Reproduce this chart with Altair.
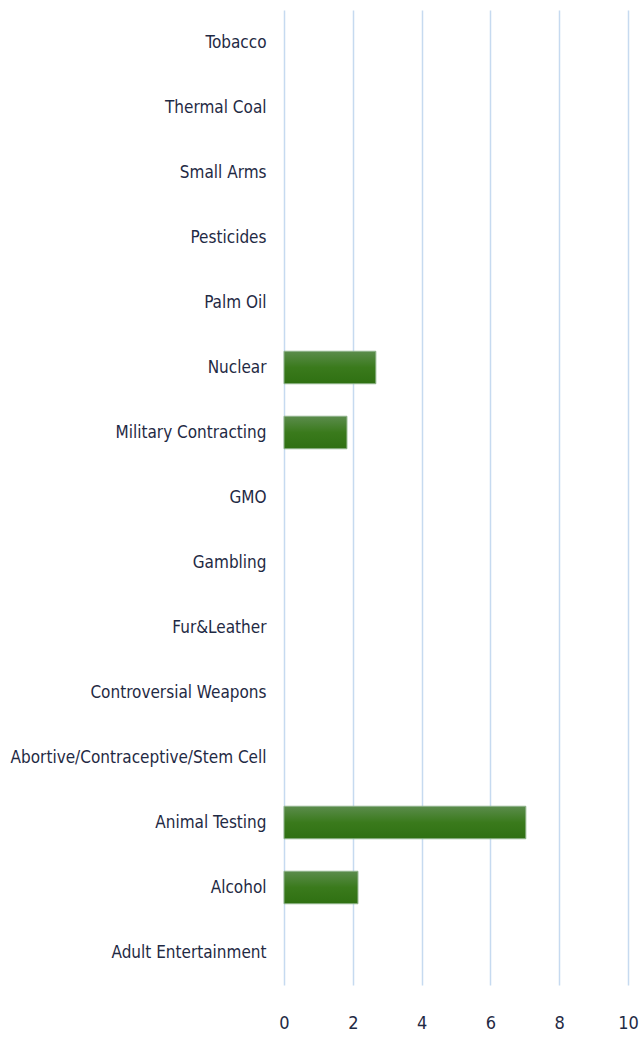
import altair as alt
import pandas as pd

categories = ["Tobacco", "Thermal Coal", "Small Arms", "Pesticides", "Palm Oil",
              "Nuclear", "Military Contracting", "GMO", "Gambling", "Fur&Leather",
              "Controversial Weapons", "Abortive/Contraceptive/Stem Cell",
              "Animal Testing", "Alcohol", "Adult Entertainment"]
values = [0, 0, 0, 0, 0, 2.67, 1.83, 0, 0, 0, 0, 0, 7.03, 2.15, 0]
x_ticks = [0, 2, 4, 6, 8, 10]

df = pd.DataFrame({"category": categories, "value": values})

FONT = "DejaVu Sans Condensed"

chart = alt.Chart(df).mark_bar(
    color=alt.Gradient(
        gradient="linear",
        stops=[alt.GradientStop(color="#5b8c4c", offset=0),
               alt.GradientStop(color="#3a7a1c", offset=0.5),
               alt.GradientStop(color="#2f7012", offset=1)],
        x1=0, x2=0, y1=0, y2=1),
    stroke="#8fb38a", strokeWidth=1
).encode(
    x=alt.X("value:Q", scale=alt.Scale(domain=[0, 10], nice=False),
            axis=alt.Axis(values=x_ticks, title=None, domain=False, ticks=False,
                          grid=True, gridColor="#c6daf0", gridWidth=1.5,
                          labelFont=FONT, labelFontSize=18, labelColor="#1f2a44",
                          labelPadding=29, labelFlush=False)),
    y=alt.Y("category:N", sort=categories,
            scale=alt.Scale(paddingInner=0.5, paddingOuter=0.25),
            axis=alt.Axis(title=None, domain=False, ticks=False, grid=False,
                          labelFont=FONT, labelFontSize=17, labelColor="#1f2a44",
                          labelPadding=18, labelLimit=300)),
    opacity=alt.condition("datum.value > 0", alt.value(1), alt.value(0))
).properties(
    width=344, height=975,
    autosize="none",
    padding={"left": 284, "top": 10, "right": 12, "bottom": 52}
).configure_view(stroke=None)

chart.save("out.html", embed_options={"renderer": "svg", "actions": False})
